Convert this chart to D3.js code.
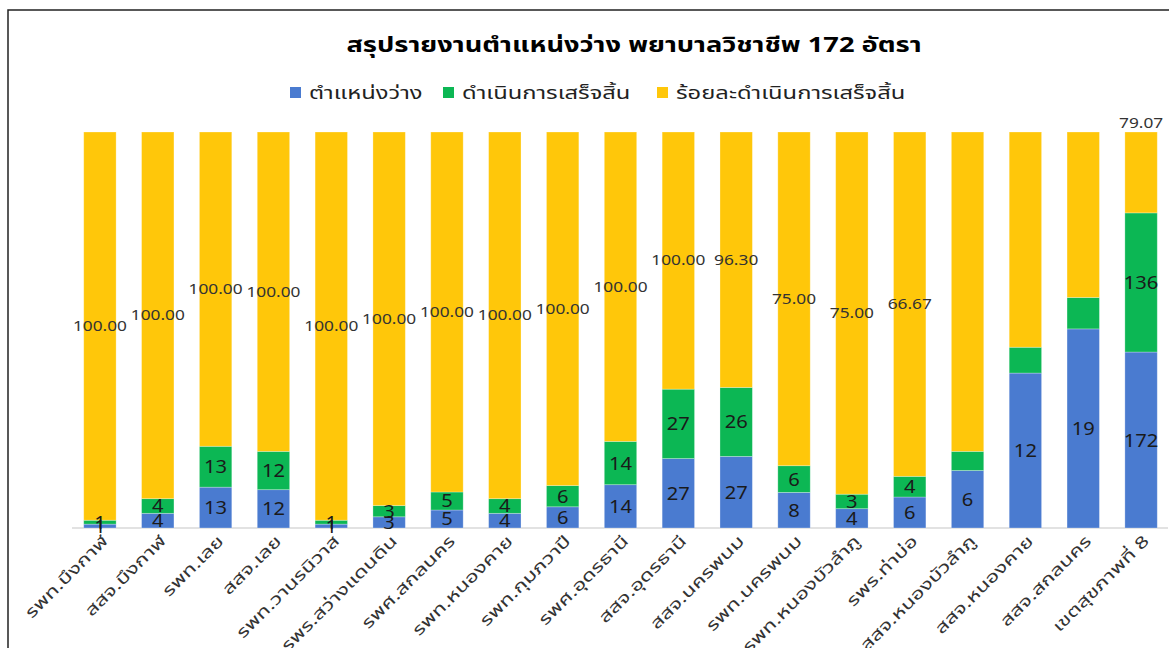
<!DOCTYPE html>
<meta charset="utf-8">
<html>
<head>
    <title>สรุปรายงานตำแหน่งว่าง</title>
    <script src="https://cdn.jsdelivr.net/npm/d3@7"></script>
</head>
<style>
    body{ margin:0; background:#fff; }
    svg{ width:1169px; height:648px; display:block; }
    text{ font-family: "Noto Sans", "Noto Sans Thai", sans-serif; }
    .title{ font-size:22px; font-weight:bold; fill:#000; }
    .legend text{ font-size:18px; fill:#222; }
    .xlab{ font-size:16px; fill:#333; }
    .lbl{ font-size:18px; fill:#1a1a1a; }
    .pct{ font-size:13.5px; fill:#333; }
</style>
<body>
<svg></svg>
<script>
    const units = ["รพท.บึงกาฬ","สสจ.บึงกาฬ","รพท.เลย","สสจ.เลย","รพท.วานรนิวาส","รพร.สว่างแดนดิน",
        "รพศ.สกลนคร","รพท.หนองคาย","รพท.กุมภวาปี","รพศ.อุดรธานี","สสจ.อุดรธานี","สสจ.นครพนม",
        "รพท.นครพนม","รพท.หนองบัวลำภู","รพร.ท่าบ่อ","สสจ.หนองบัวลำภู","สสจ.หนองคาย","สสจ.สกลนคร","เขตสุขภาพที่ 8"];
    const vacant = [1,4,13,12,1,3,5,4,6,14,27,27,8,4,6,6,12,19,172];
    const done = [1,4,13,12,1,3,5,4,6,14,27,26,6,3,4,2,2,3,136];
    const percent = [100,100,100,100,100,100,100,100,100,100,100,96.30,75,75,66.67,33.33,16.67,15.79,79.07];
    const seriesNames = ["ตำแหน่งว่าง","ดำเนินการเสร็จสิ้น","ร้อยละดำเนินการเสร็จสิ้น"];
    // these bars had their labels removed in the original
    const noLabels = ["สสจ.หนองบัวลำภู","สสจ.หนองคาย","สสจ.สกลนคร"];

    const colors = ["#4a7bd0","#0cb754","#ffc70a"];
    const keys = ["vacant","done","percent"];
    const rows = units.map((u,i)=>({unit:u, vacant:vacant[i], done:done[i], percent:percent[i]}));

    const svg = d3.select("svg");
    const plotLeft = 71, plotRight = 1170, plotTop = 132, plotBottom = 528;

    // frame
    svg.append("rect").attr("x",8).attr("y",10).attr("width",1200).attr("height",700)
        .attr("fill","none").attr("stroke","#222").attr("stroke-width",1.5);

    // the original font is much wider than Noto, so stretch text horizontally
    svg.append("text").attr("class","title")
        .attr("transform","translate(634,52) scale(1.24,1)")
        .attr("text-anchor","middle")
        .text("สรุปรายงานตำแหน่งว่าง พยาบาลวิชาชีพ 172 อัตรา");

    const x = d3.scaleBand().domain(units).range([plotLeft,plotRight]).paddingInner(0.44).paddingOuter(0.22);
    const y = d3.scaleLinear().domain([0,1]).range([plotBottom,plotTop]);

    const stack = d3.stack().keys(keys).offset(d3.stackOffsetExpand);
    const layers = stack(rows);

    // axis line
    svg.append("line").attr("x1",plotLeft+1).attr("x2",1168).attr("y1",plotBottom).attr("y2",plotBottom)
        .attr("stroke","#d9d9d9").attr("stroke-width",1.5);

    const g = svg.selectAll("g.layer").data(layers).join("g")
        .attr("class","layer").attr("fill",(d,i)=>colors[i]);
    g.selectAll("rect").data(d=>d).join("rect")
        .attr("x",d=>x(d.data.unit))
        .attr("width",x.bandwidth())
        .attr("y",d=>y(d[1]))
        .attr("height",d=>y(d[0])-y(d[1]))
        .attr("stroke","#ffffff").attr("stroke-opacity",0.35).attr("stroke-width",0.8);

    // data labels
    layers.forEach((layer,li)=>{
        svg.append("g").selectAll("text")
            .data(layer.filter(d=> li===0 || !noLabels.includes(d.data.unit)))
            .join("text")
            .attr("class", li===2 ? "pct" : "lbl")
            .attr("text-anchor","middle")
            .attr("dy","0.36em")
            .attr("transform",d=>{
                const cx = x(d.data.unit)+x.bandwidth()/2;
                let cy = (y(d[0])+y(d[1]))/2;
                if(li===2 && d.data.unit==="เขตสุขภาพที่ 8") cy = y(1)-9;
                return `translate(${cx},${cy}) scale(${li===2 ? 1.28 : 1.12},1)`;
            })
            .text(d=> li===2 ? d3.format(".2f")(d.data.percent) : d.data[keys[li]]);
    });

    // x labels rotated
    svg.append("g").selectAll("text").data(units).join("text")
        .attr("class","xlab")
        .attr("text-anchor","end")
        .attr("transform",d=>`translate(${x(d)+x.bandwidth()/2+9},${plotBottom+14}) rotate(-45) scale(1.4,1)`)
        .text(d=>d);

    // legend
    const legX = [290,443,657];
    const legend = svg.append("g").attr("class","legend");
    seriesNames.forEach((n,i)=>{
        legend.append("rect").attr("x",legX[i]).attr("y",87).attr("width",11).attr("height",11).attr("fill",colors[i]);
        legend.append("text").attr("transform",`translate(${legX[i]+19},99) scale(1.32,1)`).text(n);
    });
</script>
</body>
</html>
